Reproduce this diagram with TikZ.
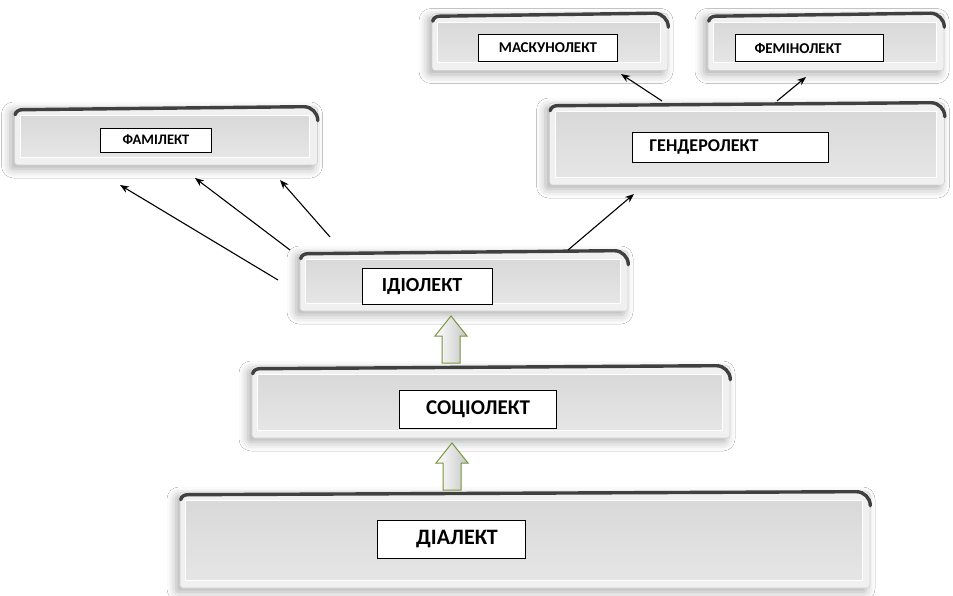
\documentclass[tikz,border=0pt]{standalone}
\usepackage{fontspec}
\setmainfont{Carlito}
\usetikzlibrary{arrows.meta,shadows.blur}
\definecolor{arrgreen}{RGB}{119,147,60}
\tikzset{
  panel/.style={fill=gray!12, draw=gray!35, line width=0.6pt, rounded corners=3pt, inner sep=0pt,
    blur shadow={shadow xshift=-4pt, shadow yshift=-4pt, shadow blur radius=9pt, shadow opacity=32}},
  inner/.style={top color=gray!30, bottom color=gray!20, draw=white, line width=1pt},
  topedge/.style={line width=3.4pt, black!75, line cap=round},
  lbl/.style={draw=black, line width=0.9pt, fill=white, inner sep=0pt, font=\bfseries},
  conn/.style={line width=1.1pt, -{Stealth[length=9pt,width=7pt]}},
  blockarr/.style={draw=arrgreen, line width=1pt, left color=white, right color=gray!45, line join=miter},
}
\newcommand\drawpanel[1]{%
  \fill[inner] ([shift={(6pt,-9pt)}]#1.north west) rectangle ([shift={(-8pt,8pt)}]#1.south east);
  \draw[topedge] ([shift={(1pt,-8pt)}]#1.north west) to[out=80,in=180] ([shift={(8pt,-3pt)}]#1.north west) -- ([shift={(-14pt,0pt)}]#1.north east) to[out=0,in=90] ([shift={(0pt,-14pt)}]#1.north east);
}
\begin{document}
\begin{tikzpicture}[x=1pt,y=-1pt]
\useasboundingbox[fill=white] (0,0) rectangle (953,596);
% panels
\node[panel, minimum width=690pt, minimum height=96pt] (dialp) at (525,540) {};
\node[panel, minimum width=478pt, minimum height=72pt] (socp) at (491,402) {};
\node[panel, minimum width=328pt, minimum height=60pt] (idip) at (464,281) {};
\node[panel, minimum width=303pt, minimum height=58pt] (famp) at (166,136) {};
\node[panel, minimum width=395pt, minimum height=82pt] (genp) at (747,144) {};
\node[panel, minimum width=236pt, minimum height=57pt] (masp) at (550,42) {};
\node[panel, minimum width=236pt, minimum height=57pt] (femp) at (826,42) {};
\drawpanel{dialp}
\drawpanel{socp}
\drawpanel{idip}
\drawpanel{famp}
\drawpanel{genp}
\drawpanel{masp}
\drawpanel{femp}
% labels
\node[lbl, minimum width=148pt, minimum height=38pt, font=\bfseries\fontsize{22}{26}\selectfont] (dial) at (451,539) {\hspace*{12pt}ДІАЛЕКТ};
\node[lbl, minimum width=157pt, minimum height=38pt, font=\bfseries\fontsize{21}{25}\selectfont] (soc) at (478,409) {СОЦІОЛЕКТ};
\node[lbl, minimum width=130pt, minimum height=36pt, font=\bfseries\fontsize{20}{24}\selectfont] (idi) at (427,286) {ІДІОЛЕКТ\hspace*{10pt}};
\node[lbl, minimum width=111pt, minimum height=24pt, font=\bfseries\fontsize{14.5}{17}\selectfont] (fam) at (156,140) {ФАМІЛЕКТ};
\node[lbl, minimum width=196pt, minimum height=30pt, font=\bfseries\fontsize{18}{21}\selectfont] (gen) at (730,147) {ГЕНДЕРОЛЕКТ\hspace*{52pt}};
\node[lbl, minimum width=139pt, minimum height=27pt, font=\bfseries\fontsize{15}{18}\selectfont] (mas) at (548,48) {МАСКУНОЛЕКТ};
\node[lbl, minimum width=148pt, minimum height=27pt, font=\bfseries\fontsize{15}{18}\selectfont] (fem) at (809,48) {ФЕМІНОЛЕКТ\hspace*{22pt}};
% connector end points
\coordinate (i1) at (278,280); \coordinate (f1) at (120,185);
\coordinate (i2) at (290,250); \coordinate (f2) at (195,178);
\coordinate (i3) at (330,237); \coordinate (f3) at (280,180);
\coordinate (i4) at (568,250); \coordinate (g1) at (634,194);
\coordinate (g2) at (662,101); \coordinate (m1) at (621,74);
\coordinate (g3) at (777,101); \coordinate (e1) at (806,77);
\draw[conn] (i1) -- (f1);
\draw[conn] (i2) -- (f2);
\draw[conn] (i3) -- (f3);
\draw[conn] (i4) -- (g1);
\draw[conn] (g2) -- (m1);
\draw[conn] (g3) -- (e1);
% green block arrows
\coordinate (ga) at (451,316);
\coordinate (gb) at (452,443);
\foreach \t in {ga,gb}{
  \draw[blockarr] (\t) -- ([shift={(16pt,-20pt)}]\t) -- ([shift={(9pt,-20pt)}]\t) -- ([shift={(9pt,-47pt)}]\t) -- ([shift={(-9pt,-47pt)}]\t) -- ([shift={(-9pt,-20pt)}]\t) -- ([shift={(-16pt,-20pt)}]\t) -- cycle;
}
\end{tikzpicture}
\end{document}
